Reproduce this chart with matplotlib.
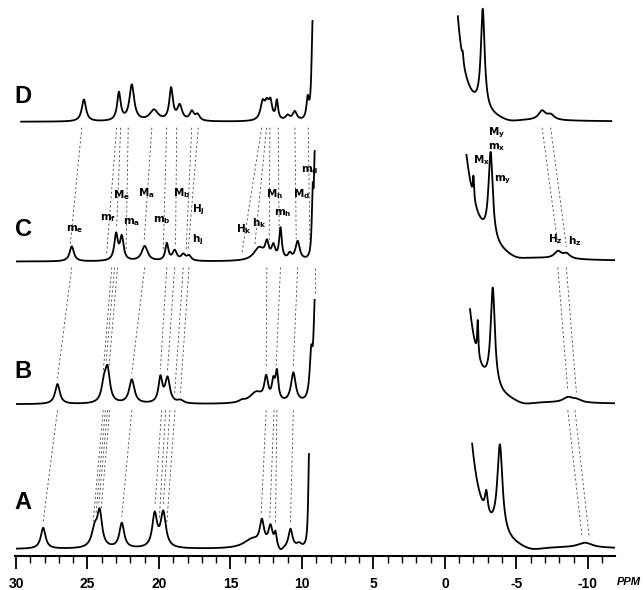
import numpy as np
import matplotlib.pyplot as plt

# stacked 1H NMR spectra A-D, peaks
# each peak: (ppm, height, half width in ppm), heights in px above the trace baseline
trace_names = ["A", "B", "C", "D"]
trace_offsets = [0, 145, 288, 428]

A_left = [(28.1, 21, 0.2), (24.5, 18, 0.25), (24.15, 34, 0.2), (22.6, 25, 0.2),
          (20.3, 33, 0.2), (19.7, 35, 0.22), (13.5, 9, 0.7), (12.8, 24, 0.18),
          (12.2, 20, 0.18), (11.85, 13, 0.1), (11.5, -5, 0.25), (10.8, 19, 0.17),
          (10.2, 4, 0.2), (9.5, 95, 0.07)]
A_right = [(-1.0, 280, 0.7), (-2.9, 22, 0.12), (-3.85, 90, 0.22), (-6.0, -6, 1.2),
           (-9.8, 5, 0.6)]

B_left = [(27.1, 20, 0.2), (23.85, 17, 0.2), (23.6, 32, 0.2), (21.9, 24, 0.22),
          (19.9, 25, 0.16), (19.4, 25, 0.2), (18.5, 3, 0.25), (14.2, 2, 0.25),
          (13.2, 11, 0.55), (12.5, 23, 0.16), (12.0, 18, 0.13), (11.75, 28, 0.12),
          (10.6, 30, 0.2), (9.35, 45, 0.13), (9.1, 95, 0.1)]
B_right = [(-0.9, 235, 0.7), (-2.3, 35, 0.05), (-3.35, 100, 0.18), (-5.5, -5, 1.0),
           (-8.6, 5, 0.4), (-9.2, 3, 0.4)]

C_left = [(26.1, 15, 0.18), (23.0, 26, 0.15), (22.6, 23, 0.15), (21.0, 15, 0.25),
          (19.45, 17, 0.13), (18.9, 10, 0.18), (18.3, 6, 0.18), (17.9, 5, 0.18),
          (13.0, 13, 0.45), (12.45, 15, 0.15), (12.0, 13, 0.15), (11.5, 31, 0.11),
          (10.85, 6, 0.15), (10.3, 19, 0.18), (9.25, 60, 0.07), (9.1, 100, 0.07)]
C_right = [(-0.6, 214, 0.9), (-2.0, 22, 0.05), (-3.2, 88, 0.18), (-5.0, -5, 1.0),
           (-7.9, 7, 0.3), (-8.5, 5, 0.3)]

D_left = [(25.25, 22, 0.18), (22.8, 28, 0.15), (21.9, 36, 0.2), (20.35, 11, 0.35),
          (19.15, 32, 0.15), (18.55, 15, 0.2), (17.7, 9, 0.18), (17.3, 6, 0.18),
          (12.75, 17, 0.18), (12.45, 15, 0.18), (12.2, 16, 0.14), (11.75, 19, 0.1),
          (11.0, 5, 0.18), (10.5, 9, 0.18), (9.6, 20, 0.1), (9.25, 100, 0.09)]
D_right = [(-0.2, 250, 0.6), (-1.25, 8, 0.05), (-2.65, 100, 0.16), (-4.5, -4, 1.0),
           (-6.8, 9, 0.3), (-7.4, 5, 0.3)]

peaks_left = {"A": A_left, "B": B_left, "C": C_left, "D": D_left}
peaks_right = {"A": A_right, "B": B_right, "C": C_right, "D": D_right}

# ppm span drawn for each trace (the diamagnetic part is cut out)
left_span = {"A": (30.0, 9.5), "B": (30.0, 9.1), "C": (30.0, 9.1), "D": (29.7, 9.25)}
right_span = {"A": (-1.9, -11.9), "B": (-1.75, -11.9), "C": (-1.5, -11.9), "D": (-0.9, -11.7)}

# dashed correlation lines between neighbouring traces: (ppm upper, ppm lower)
links_DC = [(25.4, 26.2), (22.96, 23.66), (22.68, 22.96), (22.15, 22.3), (20.5, 21.03),
            (19.46, 19.7), (18.76, 18.84), (17.71, 18.1), (17.25, 17.95), (12.82, 14.2),
            (12.47, 13.3), (12.24, 12.29), (11.66, 11.59), (10.49, 10.4), (9.56, 9.44),
            (-6.8, -7.9), (-7.4, -8.5)]
links_CB = [(26.1, 27.1), (23.3, 23.9), (23.1, 23.7), (22.9, 23.5), (21.0, 21.9),
            (19.45, 19.9), (18.9, 19.4), (18.3, 18.9), (17.9, 18.5), (12.45, 12.5),
            (11.5, 11.8), (10.3, 10.6), (9.1, 9.1), (-7.9, -8.6), (-8.5, -9.2)]
links_BA = [(27.1, 28.1), (23.9, 24.6), (23.75, 24.4), (23.6, 24.2), (23.45, 24.05),
            (21.9, 22.6), (19.81, 20.28), (19.53, 19.98), (19.23, 19.7), (18.88, 19.46),
            (12.5, 12.85), (11.95, 12.25), (11.75, 11.85), (10.6, 10.8),
            (-8.6, -9.6), (-9.1, -10.1)]

# assignment labels on trace C: (text, ppm, y)
labels_C = [("m_e", 25.87, 320), ("m_f", 23.57, 332), ("M_e", 22.59, 355),
            ("m_a", 21.89, 327), ("M_a", 20.91, 357), ("m_b", 19.79, 330),
            ("M_b", 18.39, 357), ("H_j", 17.27, 340), ("h_j", 17.27, 310),
            ("H_k", 14.06, 320), ("h_k", 13.0, 326), ("M_h", 11.89, 356),
            ("m_h", 11.33, 337), ("M_d", 10.0, 356), ("m_d", 9.44, 380),
            ("M_y", -3.64, 417), ("m_x", -3.64, 403), ("M_x", -2.59, 390),
            ("m_y", -4.06, 370), ("H_z", -7.75, 310), ("h_z", -9.05, 308)]

major_ticks = [30, 25, 20, 15, 10, 5, 0, -5, -10]


def spectrum(x, peaks):
    y = np.zeros_like(x)
    for pos, h, w in peaks:
        y += h / (1 + ((x - pos) / w) ** 2)
    return y


def value_at(name, ppm):
    peaks = peaks_left[name] if ppm > 5 else peaks_right[name]
    return float(spectrum(np.array([ppm]), peaks)[0])


def main():
    fig = plt.figure(figsize=(6.43, 5.90), dpi=100)
    ax = fig.add_axes([15 / 643, 34 / 590, 600 / 643, 556 / 590])

    for name, off in zip(trace_names, trace_offsets):
        for span, peaks in ((left_span[name], peaks_left[name]),
                            (right_span[name], peaks_right[name])):
            x = np.linspace(span[0], span[1], 1500)
            ax.plot(x, spectrum(x, peaks) + off, color="black", lw=1.3,
                    solid_capstyle="butt")

    # dashed lines linking the same signal in two traces
    off = dict(zip(trace_names, trace_offsets))
    for upper, lower, links in (("D", "C", links_DC), ("C", "B", links_CB),
                                ("B", "A", links_BA)):
        for pu, pl in links:
            y0 = off[upper] - 6
            y1 = off[lower] + value_at(lower, pl) + 6
            ax.plot([pu, pl], [y0, y1], color="0.25", lw=0.6,
                    linestyle=(0, (2.5, 3)))

    for txt, ppm, y in labels_C:
        ax.text(ppm, y, r"$\mathbf{" + txt + "}$", fontsize=7.5, ha="center",
                va="center", color="black")

    for name, y in zip(trace_names, [47, 178, 320, 453]):
        ax.text(29.5, y, name, fontsize=17, fontweight="bold", ha="center",
                va="center", family="Liberation Sans")

    ax.set_xlim(30.07, -11.9)
    ax.set_ylim(-7, 550)
    ax.set_xticks(major_ticks)
    ax.set_xticklabels([str(t) for t in major_ticks], fontsize=10,
                       fontweight="bold", family="Liberation Sans")
    ax.set_xticks(np.arange(-11, 31, 1), minor=True)
    ax.tick_params(axis="x", which="major", direction="out", length=9, width=1.3, pad=6)
    ax.tick_params(axis="x", which="minor", direction="out", length=5, width=1.0)
    ax.set_yticks([])
    for side in ("top", "left", "right"):
        ax.spines[side].set_visible(False)
    ax.spines["bottom"].set_linewidth(1.5)

    fig.text(641 / 643, 1 - 582 / 590, "PPM", fontsize=8, fontweight="bold",
             fontstyle="italic", ha="right", va="center", family="Liberation Sans")

    fig.savefig("out.png", dpi=100)


if __name__ == "__main__":
    main()
